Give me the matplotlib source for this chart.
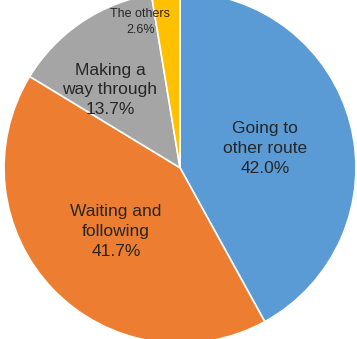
import matplotlib
matplotlib.use("Agg")
import matplotlib.pyplot as plt
import numpy as np

labels = ["Going to\nother route", "Waiting and\nfollowing", "Making a\nway through", "The others"]
values = [42.0, 41.7, 13.7, 2.6]
colors = ["#5B9BD5", "#ED7D31", "#A5A5A5", "#FFC000"]
label_r = [0.495, 0.515, 0.596, 0.86]
label_shift = [-1.8, 1.3, 7.9, 10.5]
font_sizes = [12.5, 12.5, 12.5, 9.0]

plt.rcParams['font.family'] = ['Liberation Sans', 'DejaVu Sans']
fig = plt.figure(figsize=(3.57, 3.39), dpi=100)
ax = fig.add_axes([0, 0, 1, 1])
wedges, _ = ax.pie(values, colors=colors, startangle=90, counterclock=False,
                   wedgeprops=dict(edgecolor="white", linewidth=1.2))
for w, lab, v, r, sh, fs in zip(wedges, labels, values, label_r, label_shift, font_sizes):
    ang = np.deg2rad((w.theta1 + w.theta2) / 2 + sh)
    ax.text(r * np.cos(ang), r * np.sin(ang), f"{lab}\n{v:.1f}%", ha="center", va="center",
            fontsize=fs, color="#262626", linespacing=1.4)
ax.set_aspect("auto")
ax.set_xlim(-1.023, 1.006)
ax.set_ylim(-0.975, 0.955)
ax.axis("off")
fig.savefig("out.png", dpi=100)
